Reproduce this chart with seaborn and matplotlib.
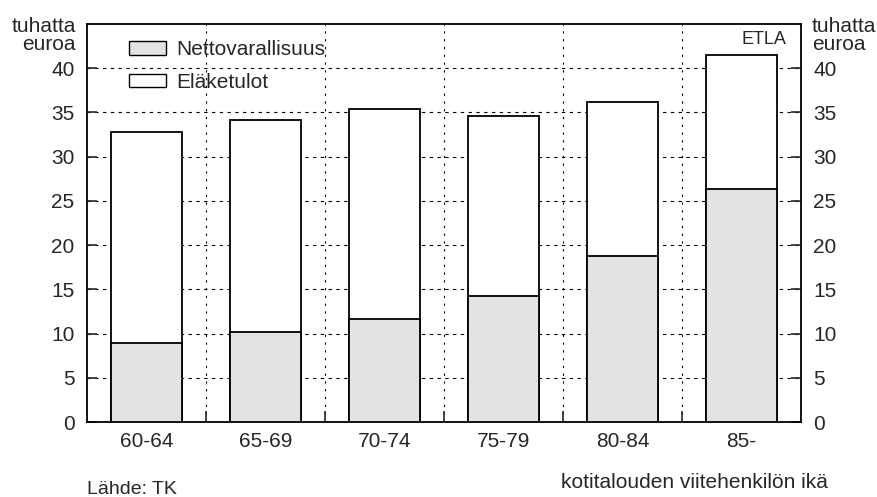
import numpy as np
import pandas as pd
import seaborn as sns
import matplotlib.pyplot as plt
from matplotlib.patches import Patch

# data (tuhatta euroa)
ika = ['60-64', '65-69', '70-74', '75-79', '80-84', '85-']
nettovarallisuus = [8.9, 10.2, 11.6, 14.2, 18.8, 26.3]
elaketulot = [23.9, 23.9, 23.8, 20.4, 17.4, 15.2]

df = pd.DataFrame({'ika': ika, 'netto': nettovarallisuus, 'elake': elaketulot})
df['yhteensa'] = df['netto'] + df['elake']

sns.set_style('white')
plt.rcParams['font.family'] = ['Liberation Sans', 'DejaVu Sans']
fs = 15

fig = plt.figure(figsize=(8.77, 4.97), dpi=100)
ax = fig.add_axes([87 / 877, 1 - 422 / 497, 714 / 877, 398 / 497])

# total bar (white) first, then the gray part on top of it
sns.barplot(data=df, x='ika', y='yhteensa', color='white', saturation=1,
            edgecolor='black', linewidth=1.3, width=0.6, ax=ax, zorder=3)
sns.barplot(data=df, x='ika', y='netto', color='#e3e3e3', saturation=1,
            edgecolor='black', linewidth=1.3, width=0.6, ax=ax, zorder=3)

ax.set_xlim(-0.5, 5.5)
ax.set_ylim(0, 45)
ax.set_xlabel('')
ax.set_ylabel('')
ax.set_yticks(range(0, 45, 5))
ax.set_xticks(range(6))
ax.set_xticklabels(ika)
ax.set_xticks(np.arange(0.5, 5.5, 1), minor=True)

for s in ax.spines.values():
    s.set_visible(True)
    s.set_color('black')
    s.set_linewidth(1.3)

ax.grid(False)
ax.yaxis.grid(True, linestyle=(0, (3, 4)), color='black', linewidth=0.8)
ax.xaxis.grid(True, which='minor', linestyle=(0, (2, 5)), color='black', linewidth=0.8)
ax.set_axisbelow(True)

ax.tick_params(axis='y', direction='in', length=7, width=1.2, left=True, right=True,
               labelleft=True, labelright=True, labelsize=fs, pad=9)
ax.tick_params(axis='x', which='major', length=0, labelsize=fs, pad=7)
ax.tick_params(axis='x', which='minor', direction='in', length=8, width=1.2, bottom=True)

ax.legend(handles=[Patch(facecolor='#e3e3e3', edgecolor='black', label='Nettovarallisuus'),
                   Patch(facecolor='white', edgecolor='black', label='Eläketulot')],
          loc='upper left', bbox_to_anchor=(0.044, 0.985), frameon=False, borderpad=0,
          fontsize=fs, handlelength=1.8, handleheight=0.6, handletextpad=0.5,
          labelspacing=0.65)

ax.text(0.980, 0.96, 'ETLA', transform=ax.transAxes, ha='right', va='center', fontsize=13)
fig.text(76 / 877, 1 - 17 / 497, 'tuhatta\neuroa', ha='right', va='top', fontsize=fs,
         linespacing=0.95)
fig.text(812 / 877, 1 - 17 / 497, 'tuhatta\neuroa', ha='left', va='top', fontsize=fs,
         linespacing=0.95)
fig.text(828 / 877, 1 - 482 / 497, 'kotitalouden viitehenkilön ikä', ha='right', va='center',
         fontsize=fs)
fig.text(87 / 877, 1 - 489 / 497, 'Lähde: TK', ha='left', va='center', fontsize=14)

fig.savefig('out.png', dpi=100)
